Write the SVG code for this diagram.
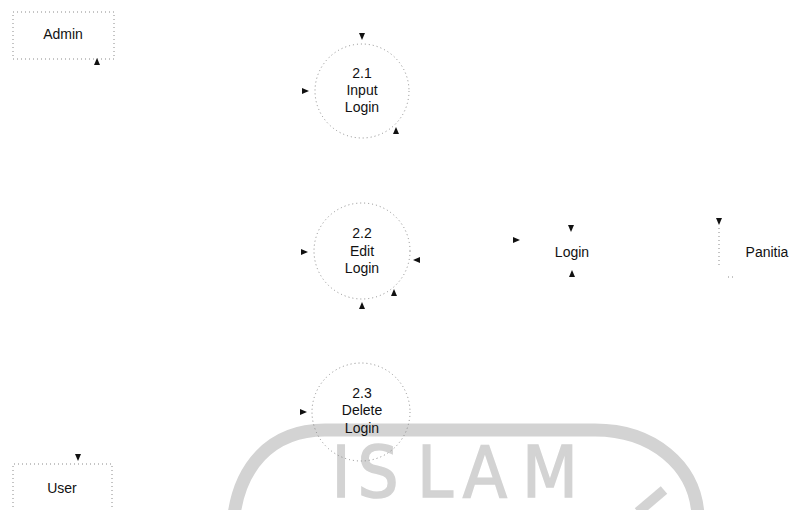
<svg xmlns="http://www.w3.org/2000/svg" width="808" height="510" viewBox="0 0 808 510">
<style>
  .lbl{font-family:"Liberation Sans",Arial,sans-serif;font-size:14px;fill:#111;text-anchor:middle}
  .proc{fill:none;stroke:#8a8a8a;stroke-width:1;stroke-dasharray:1 3}
  .ent{fill:none;stroke:#8a8a8a;stroke-width:1;stroke-dasharray:1 3}
  .wm{font-family:"Liberation Sans Narrow","DejaVu Sans Condensed","Liberation Sans",sans-serif;font-size:72px;fill:#d3d3d3;stroke:#d3d3d3;stroke-width:1.5;text-anchor:middle}
  .ah{fill:#111}
</style>
<defs>
  <path id="arr" d="M0,0 L-3,-7 L3,-7 Z"/>
</defs>
<rect width="808" height="510" fill="#fff"/>
<g id="watermark">
  <path d="M234 515 C240 470 268 430 325 430 L595 430 C652 430 695 465 698 515" fill="none" stroke="#d3d3d3" stroke-width="13"/>
  <path d="M664 490 L638 512" stroke="#d3d3d3" stroke-width="10" fill="none"/>
  <text class="wm" x="341" y="497">I</text>
  <text class="wm" x="378" y="497">S</text>
  <text class="wm" x="435" y="497">L</text>
  <text class="wm" x="485" y="497">A</text>
  <text class="wm" x="550" y="497">M</text>
</g>
<g id="admin">
  <rect class="ent" x="13" y="12" width="101" height="47"/>
  <text class="lbl" x="63" y="39">Admin</text>
</g>
<g id="user">
  <path class="ent" d="M13 515 L13 464 L112 464 L112 515"/>
  <text class="lbl" x="62" y="493">User</text>
</g>
<g id="p21">
  <circle class="proc" cx="362" cy="91" r="47"/>
  <text class="lbl" x="362" y="78">2.1</text>
  <text class="lbl" x="362" y="95">Input</text>
  <text class="lbl" x="362" y="112">Login</text>
</g>
<g id="p22">
  <circle class="proc" cx="362" cy="251" r="48"/>
  <text class="lbl" x="362" y="238">2.2</text>
  <text class="lbl" x="362" y="256">Edit</text>
  <text class="lbl" x="362" y="273">Login</text>
</g>
<g id="p23">
  <circle class="proc" cx="361" cy="412" r="49"/>
  <text class="lbl" x="362" y="398">2.3</text>
  <text class="lbl" x="362" y="415">Delete</text>
  <text class="lbl" x="362" y="433">Login</text>
</g>
<g id="login">
  <text class="lbl" x="572" y="257">Login</text>
</g>
<g id="panitia">
  <path class="ent" d="M719 228 L719 266 M728 277 L736 277"/>
  <text class="lbl" x="767" y="257">Panitia</text>
</g>
<g id="connectors">
  <use href="#arr" class="ah" transform="translate(97 58) rotate(180)"/>
  <use href="#arr" class="ah" transform="translate(362 40)"/>
  <use href="#arr" class="ah" transform="translate(309 91) rotate(-90)"/>
  <use href="#arr" class="ah" transform="translate(396 127) rotate(180)"/>
  <use href="#arr" class="ah" transform="translate(308 252) rotate(-90)"/>
  <use href="#arr" class="ah" transform="translate(413 260) rotate(90)"/>
  <use href="#arr" class="ah" transform="translate(394 289) rotate(180)"/>
  <use href="#arr" class="ah" transform="translate(362 302) rotate(180)"/>
  <use href="#arr" class="ah" transform="translate(520 240) rotate(-90)"/>
  <use href="#arr" class="ah" transform="translate(571 232)"/>
  <use href="#arr" class="ah" transform="translate(572 270) rotate(180)"/>
  <use href="#arr" class="ah" transform="translate(719 225)"/>
  <use href="#arr" class="ah" transform="translate(307 412) rotate(-90)"/>
  <use href="#arr" class="ah" transform="translate(78 461)"/>
</g>
</svg>
